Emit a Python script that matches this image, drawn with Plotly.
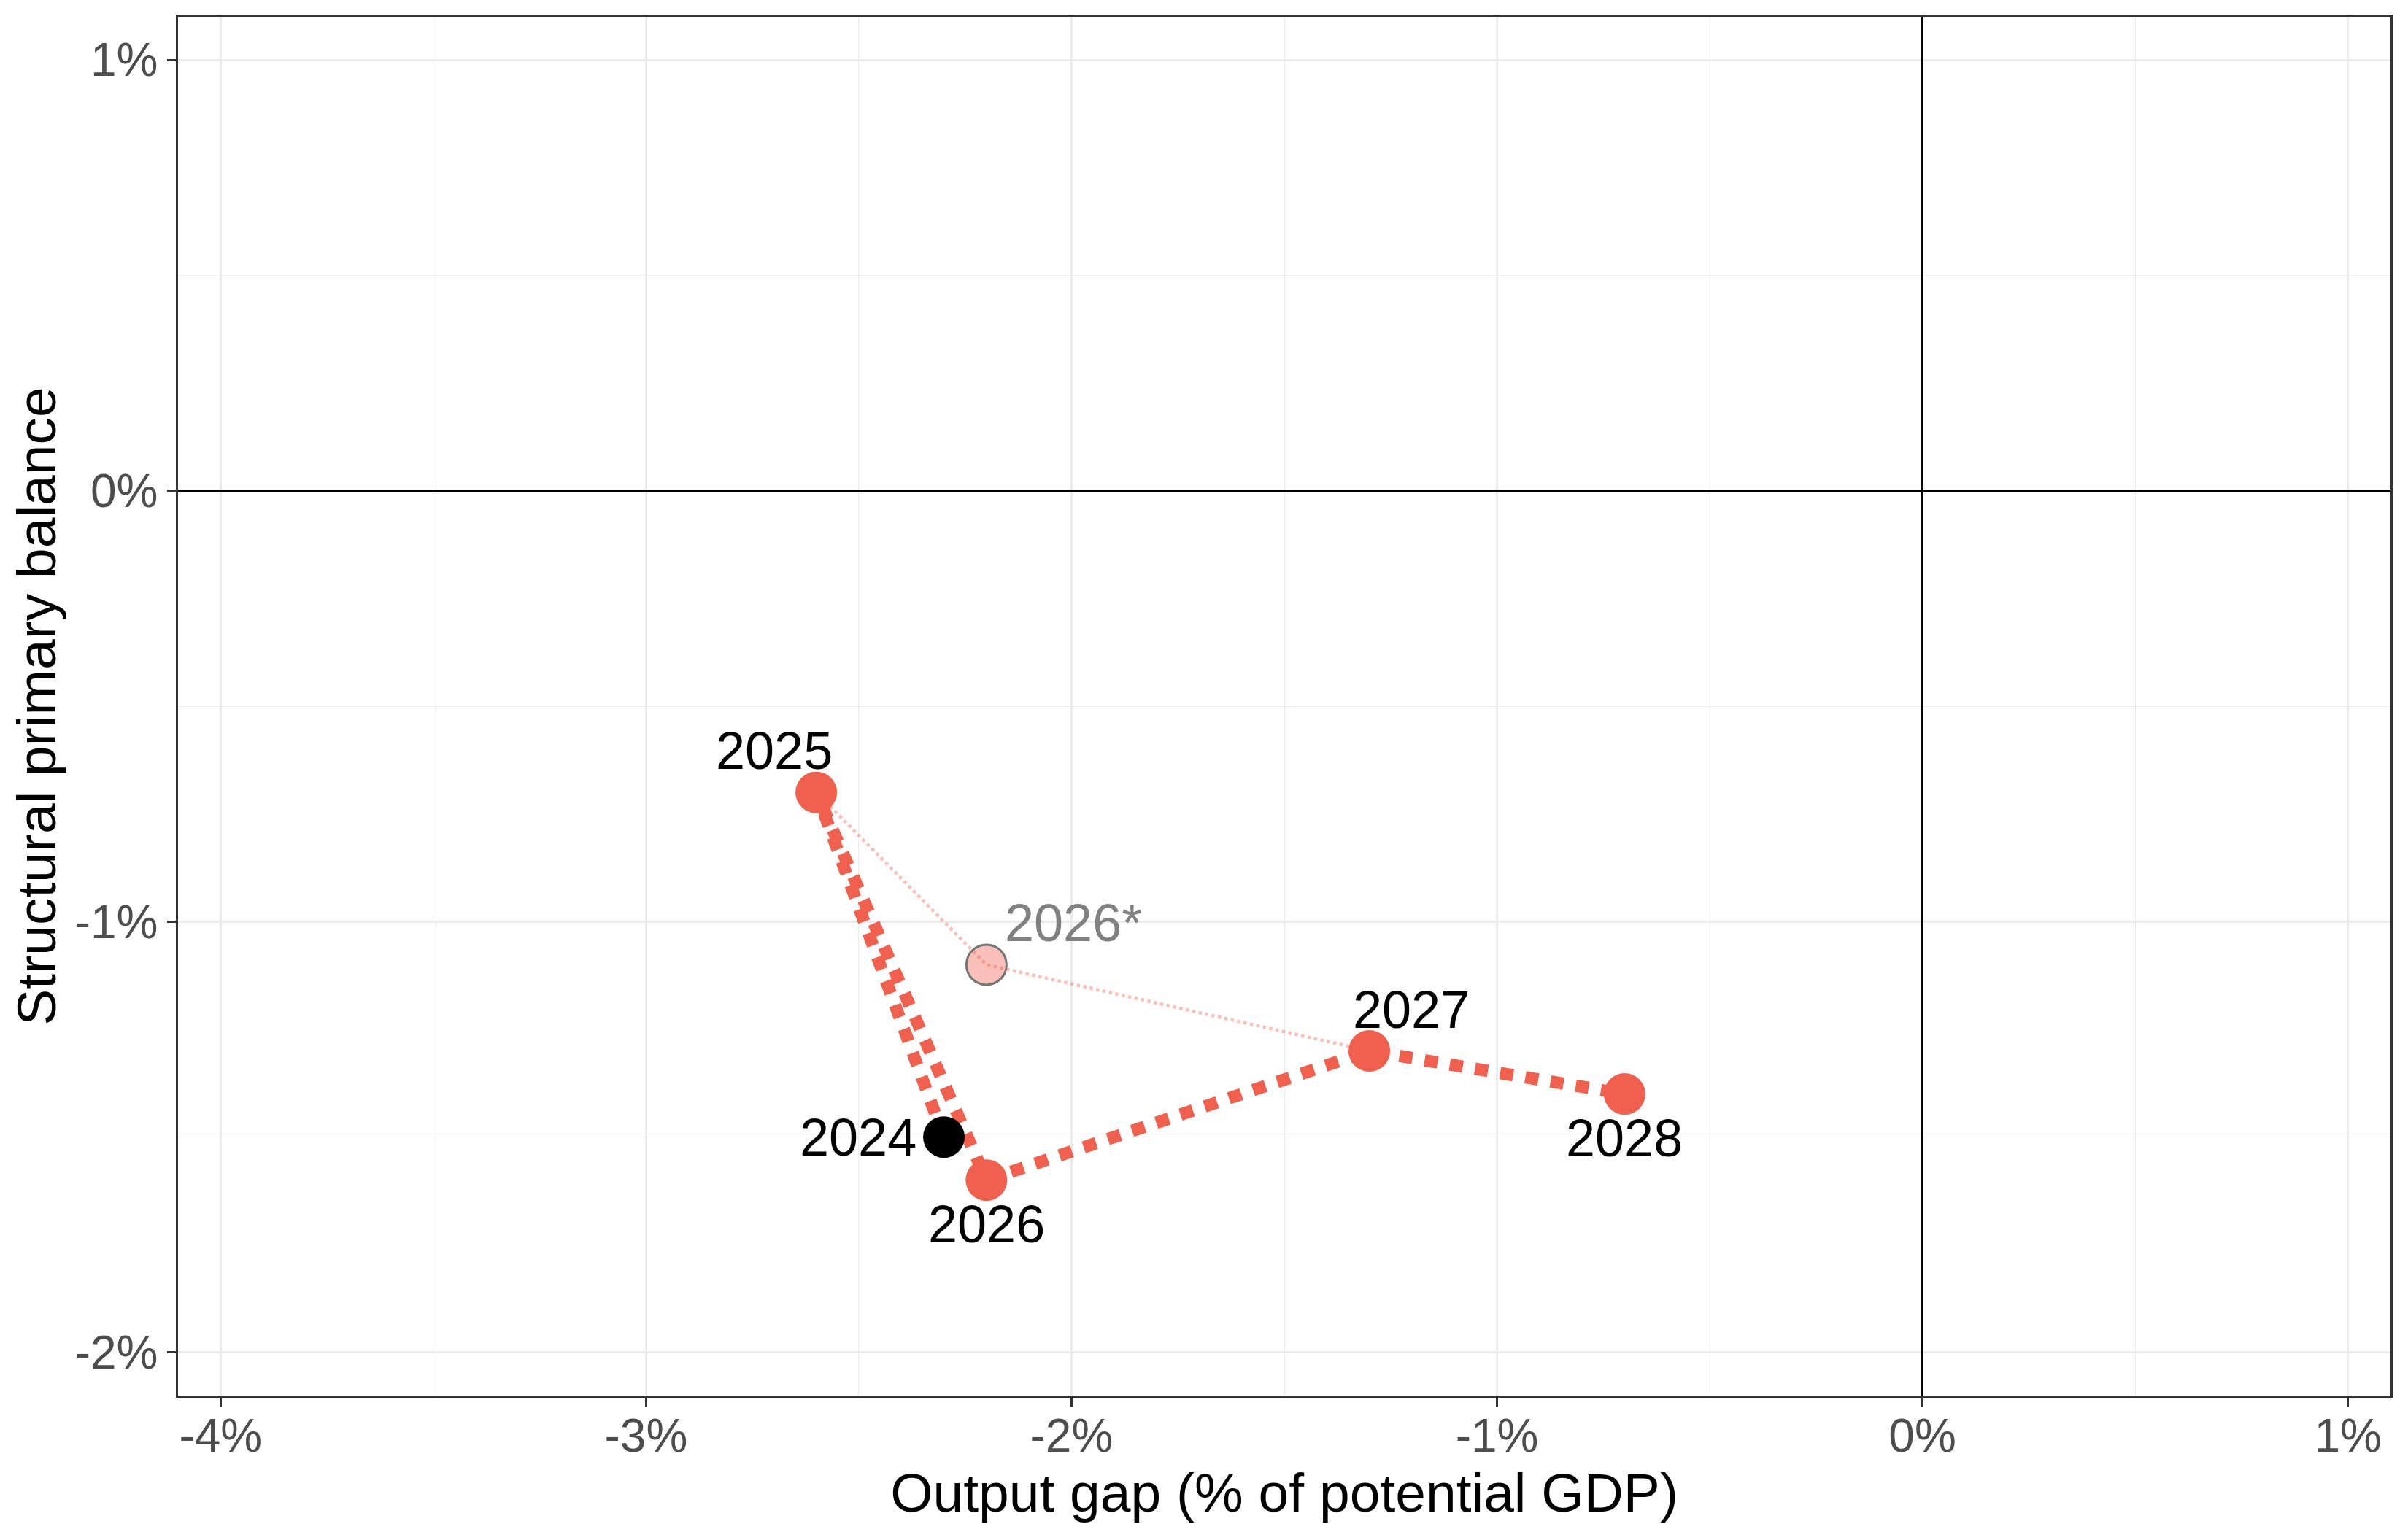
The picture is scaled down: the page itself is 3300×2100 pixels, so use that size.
import plotly.graph_objects as go

# ---- data ----
years = ["2024", "2025", "2026", "2027", "2028"]
output_gap = [-2.3, -2.6, -2.2, -1.3, -0.7]
structural_pb = [-1.5, -0.7, -1.6, -1.3, -1.4]

alt_years = ["2025", "2026*", "2027"]
alt_output_gap = [-2.6, -2.2, -1.3]
alt_structural_pb = [-0.7, -1.1, -1.3]

x_ticks = [-4, -3, -2, -1, 0, 1]
x_ticklabels = ["-4%", "-3%", "-2%", "-1%", "0%", "1%"]
y_ticks = [-2, -1, 0, 1]
y_ticklabels = ["-2%", "-1%", "0%", "1%"]

RED = "#F0604F"
RED_LIGHT = "rgba(240,96,79,0.4)"
FONT = "Liberation Sans, Arial, sans-serif"

fig = go.Figure()

# main dashed path
fig.add_trace(go.Scatter(
    x=output_gap, y=structural_pb, mode="lines",
    line=dict(color=RED, width=17, dash="18px,17px"),
    hoverinfo="skip", showlegend=False))

# alternative 2026* marker (semi-transparent)
fig.add_trace(go.Scatter(
    x=[alt_output_gap[1]], y=[alt_structural_pb[1]], mode="markers",
    marker=dict(size=55, color=RED_LIGHT, line=dict(color="#757575", width=3)),
    hoverinfo="skip", showlegend=False))

# alternative dotted path
fig.add_trace(go.Scatter(
    x=alt_output_gap, y=alt_structural_pb, mode="lines",
    line=dict(color=RED_LIGHT, width=4.5, dash="4.5px,4.5px"),
    hoverinfo="skip", showlegend=False))

# main markers
marker_colors = ["black" if yv == "2024" else RED for yv in years]
fig.add_trace(go.Scatter(
    x=output_gap, y=structural_pb, mode="markers",
    marker=dict(size=57, color=marker_colors, line=dict(width=0)),
    hoverinfo="skip", showlegend=False))

# labels (offsets in pixels)
label_offsets = {
    "2024": (-118, 0),
    "2025": (-58, 57),
    "2026": (0, -60),
    "2027": (57, 57),
    "2028": (0, -60),
}
for yr, xv, yv in zip(years, output_gap, structural_pb):
    dx, dy = label_offsets[yr]
    fig.add_annotation(x=xv, y=yv, text=yr, showarrow=False,
                       xshift=dx, yshift=dy, xanchor="center", yanchor="middle",
                       font=dict(family=FONT, size=72, color="black"))
fig.add_annotation(x=alt_output_gap[1], y=alt_structural_pb[1], text=alt_years[1],
                   showarrow=False, xshift=119, yshift=57,
                   xanchor="center", yanchor="middle",
                   font=dict(family=FONT, size=72, color="#808080"))

axis_common = dict(
    showline=True, mirror=True, linecolor="#333333", linewidth=2.5,
    ticks="outside", ticklen=12, tickwidth=3, tickcolor="#333333",
    showgrid=True, gridcolor="#EBEBEB", gridwidth=2.5,
    zeroline=True, zerolinecolor="black", zerolinewidth=3,
    tickfont=dict(family=FONT, size=64, color="#4D4D4D"),
)

fig.update_xaxes(
    range=[-4.1, 1.1], tickvals=x_ticks, ticktext=x_ticklabels,
    ticklabelstandoff=-15,
    minor=dict(dtick=0.5, tick0=0, showgrid=True, gridcolor="#EBEBEB", gridwidth=1.2, ticks=""),
    title=dict(text="Output gap (% of potential GDP)", standoff=8,
               font=dict(family=FONT, size=75, color="black")),
    **axis_common)
fig.update_yaxes(
    range=[-2.1, 1.1], tickvals=y_ticks, ticktext=y_ticklabels,
    minor=dict(dtick=0.5, tick0=0, showgrid=True, gridcolor="#EBEBEB", gridwidth=1.2, ticks=""),
    title=dict(text="Structural primary balance", standoff=24,
               font=dict(family=FONT, size=75, color="black")),
    **axis_common)

# page body has an 8px margin; compensate so the panel lands where intended
fig.update_layout(
    width=3284, height=2084,
    margin=dict(l=236, r=16, t=15, b=179),
    plot_bgcolor="white", paper_bgcolor="white",
    font=dict(family=FONT),
    showlegend=False,
)

fig.write_html("out.html")
